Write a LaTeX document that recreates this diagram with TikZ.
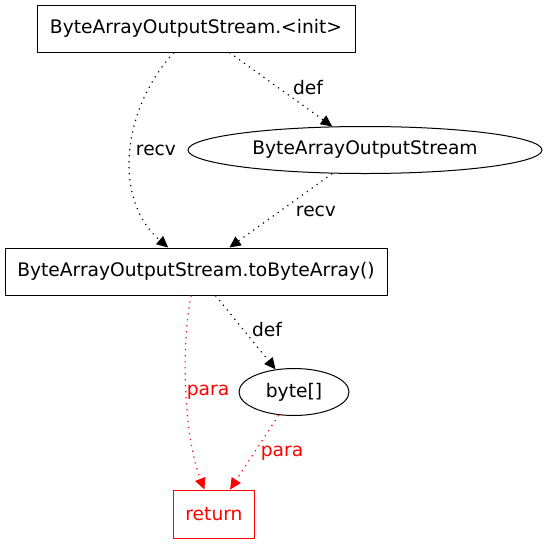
\documentclass[tikz,border=0pt]{standalone}
\usepackage{fontspec}
\setmainfont{DejaVu Sans}
\usepackage{tikz}
\usetikzlibrary{arrows.meta,shapes.geometric}
\definecolor{paracolor}{rgb}{1.0,0.0,0.0}
\tikzset{
  call/.style={draw, line width=0.75pt, fill=white, minimum height=35.25pt, inner sep=0pt, font=\fontsize{14}{16}\selectfont},
  obj/.style={draw, ellipse, line width=0.75pt, fill=white, minimum height=35.25pt, inner sep=0pt, font=\fontsize{14}{16}\selectfont},
  ret/.style={call, draw=paracolor, text=paracolor, minimum height=36pt},
  flow/.style={-{Triangle[length=8.5pt,width=8pt]}, line width=0.9pt, dash pattern=on 0.9pt off 3.6pt},
  para/.style={flow, draw=paracolor},
  fl/.style={font=\fontsize{14}{16}\selectfont, inner sep=1pt},
  pl/.style={fl, text=paracolor},
}
\begin{document}
\begin{tikzpicture}[x=0.75pt,y=-0.75pt]
\useasboundingbox (0,0) rectangle (547,544);
\node[call, minimum width=238.5pt] (init) at (196,28.5) {ByteArrayOutputStream.<init>};
\node[obj, minimum width=265.5pt] (baos) at (365,150) {ByteArrayOutputStream};
\node[call, minimum width=286.5pt] (tba) at (196,271.5) {ByteArrayOutputStream.toByteArray()};
\node[obj, minimum width=82.5pt] (bytes) at (294,392) {byte[]};
\node[ret, minimum width=60.75pt] (ret) at (214,514) {return};
\draw[flow] (init) .. controls (121,110) and (113,200) .. (tba);
\node[fl] (l1) at (156,150) {recv};
\draw[flow] (init) -- (baos);
\node[fl] (l2) at (308,88) {def};
\draw[flow] (baos) -- (tba);
\node[fl] (l3) at (316,211) {recv};
\draw[flow] (tba) -- (bytes);
\node[fl] (l4) at (267,330) {def};
\draw[para] (tba) .. controls (180,350) and (185,440) .. (ret);
\node[pl] (l5) at (208,392) {para};
\draw[para] (bytes) -- (ret);
\node[pl] (l6) at (282,453) {para};
\end{tikzpicture}
\end{document}
